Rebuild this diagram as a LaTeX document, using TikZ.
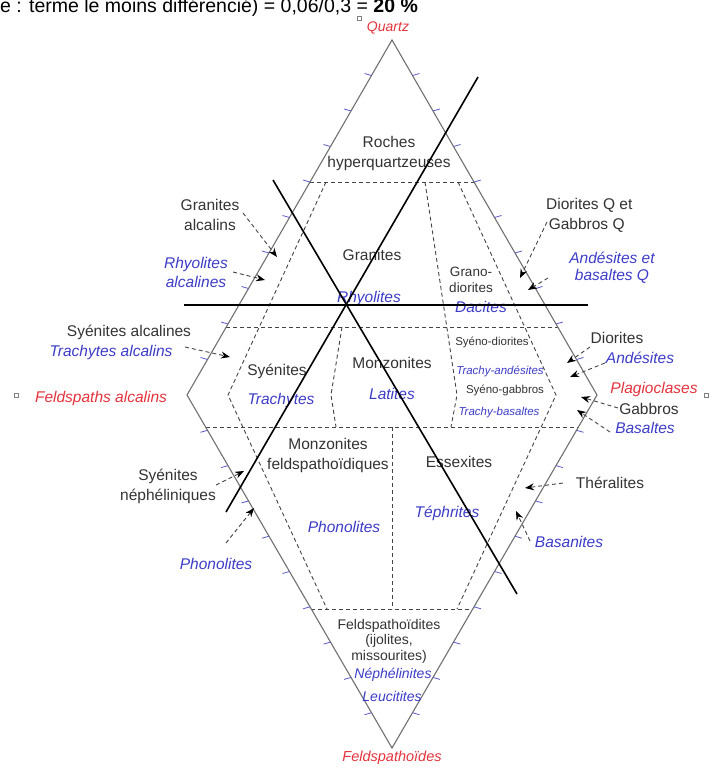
\documentclass[tikz,border=0pt]{standalone}
\usepackage{fontspec}
\setmainfont{Liberation Sans}
\usetikzlibrary{arrows.meta,calc,positioning}
\definecolor{txt}{HTML}{333333}
\definecolor{blu}{HTML}{3C3CC8}
\definecolor{rouge}{HTML}{E4323C}
\definecolor{edge}{HTML}{707070}
\definecolor{grad}{HTML}{5A5AC8}
\definecolor{trait}{HTML}{444444}

\tikzset{
  lbl/.style={text=txt,font=\fontsize{15.5}{20}\selectfont,align=center,inner sep=0pt},
  lave/.style={lbl,text=blu,font=\fontsize{15.5}{19}\selectfont\itshape},
  petit/.style={lbl,font=\fontsize{11.5}{14}\selectfont},
  petitlave/.style={petit,text=blu,font=\fontsize{11.5}{14}\selectfont\itshape},
  pole/.style={lbl,text=rouge,font=\fontsize{15.5}{18}\selectfont\itshape},
  bord/.style={draw=edge,line width=1.1pt,line join=miter},
  champ/.style={draw=trait,line width=0.9pt,dash pattern=on 4pt off 3pt},
  fleche/.style={draw=trait,line width=0.9pt,dash pattern=on 4pt off 3pt,-{Stealth[length=9pt,width=7pt,black]}},
  gradu/.style={draw=grad,line width=0.8pt},
  barre/.style={draw=black,line width=1.6pt},
  poignee/.style={draw=gray,line width=0.8pt}
}

\begin{document}
\begin{tikzpicture}[x=1pt,y=-1pt]
\useasboundingbox (0,0) rectangle (715,768);

% sommets du double triangle
\coordinate (Q) at (392,40);
\coordinate (A) at (187,395);
\coordinate (P) at (597,395);
\coordinate (F) at (392,748);

% ligne de texte coupee en haut
\node[anchor=base west,inner sep=0pt,text=black,font=\fontsize{19.5}{22}\selectfont] (titre) at (0,13)
  {e : terme le moins différencié) = 0,06/0,3 = \textbf{20 \%}};

% limites des champs
\draw[champ] (310,182) -- (474,182);
\draw[champ] (226,327) -- (558,327);
\draw[champ] (206,427) -- (578,427);
\draw[champ] (311,609) -- (473,609);
\draw[champ] (326,182) -- (228,395) -- (327,609);
\draw[champ] (342,327) -- (331,395) -- (336,427);
\draw[champ] (425,182) -- (457,395) -- (451,427);
\draw[champ] (458,182) -- (556,395) -- (457,609);
\draw[champ] (392,427) -- (392,609);

% contour
\draw[bord] (Q) -- (P) -- (F) -- (A) -- cycle;

% graduations
\foreach \k in {1,...,9} {
  \draw[gradu] ($(Q)!\k/10!(A)$) -- ++(-7,-2);
  \draw[gradu] ($(Q)!\k/10!(P)$) -- ++(7,-2);
  \draw[gradu] ($(F)!\k/10!(A)$) -- ++(-7,2);
  \draw[gradu] ($(F)!\k/10!(P)$) -- ++(7,2);
}

% poles
\node[pole,font=\fontsize{14}{16}\selectfont\itshape] (quartz) at (388,28) {Quartz};
\node[pole] (feldalc) at (101,398) {Feldspaths alcalins};
\node[pole] (plagio) at (654,389) {Plagioclases};
\node[pole,font=\fontsize{14.5}{16}\selectfont\itshape] (feldspd) at (392,758) {Feldspathoïdes};

% roches plutoniques et volcaniques
\node[lbl] (hyperq) at (389,153) {Roches\\hyperquartzeuses};
\node[lbl] (granalc) at (210,215) {Granites\\alcalins};
\node[lave] (rhyalc) at (196,272) {Rhyolites\\alcalines};
\node[lbl] (granites) at (372,255) {Granites};
\node[lave] (rhyolites) at (369,298) {Rhyolites};
\node[lbl,font=\fontsize{13.5}{15.5}\selectfont] (granodio) at (471,280) {Grano-\\diorites};
\node[lave] (dacites) at (481,307) {Dacites};
\node[lbl,align=left,anchor=west] (dioQ) at (546,215) {Diorites Q et\\\,Gabbros Q};
\node[lave,font=\fontsize{15.5}{17}\selectfont\itshape] (andQ) at (612,268) {Andésites et\\basaltes Q};

\node[lbl] (syalc) at (129,332) {Syénites alcalines};
\node[lave] (tralc) at (111,352) {Trachytes alcalins};
\node[lbl] (syenites) at (277,371) {Syénites};
\node[lave] (trachytes) at (281,400) {Trachytes};
\node[lbl] (monzo) at (392,363) {Monzonites};
\node[lave] (latites) at (392,394) {Latites};
\node[petit] (synodio) at (492,342) {Syéno-diorites};
\node[petitlave] (tradesit) at (500,371) {Trachy-andésites};
\node[petit] (synogab) at (505,390) {Syéno-gabbros};
\node[petitlave] (trabas) at (499,413) {Trachy-basaltes};
\node[lbl] (diorites) at (617,338) {Diorites};
\node[lave] (andesites) at (640,358) {Andésites};
\node[lbl] (gabbros) at (649,409) {Gabbros};
\node[lave] (basaltes) at (645,428) {Basaltes};

\node[lbl] (monzfeld) at (328,455) {Monzonites\\feldspathoïdiques};
\node[lbl] (essex) at (459,462) {Essexites};
\node[lbl] (synep) at (168,486) {Syénites\\néphéliniques};
\node[lbl] (theral) at (610,483) {Théralites};
\node[lave] (phonoin) at (344,527) {Phonolites};
\node[lave] (tephr) at (447,513) {Téphrites};
\node[lave] (basan) at (569,542) {Basanites};
\node[lave] (phonoout) at (216,564) {Phonolites};

\node[lbl,font=\fontsize{14}{15.5}\selectfont] (feldite) at (389,641) {Feldspathoïdites\\(ijolites,\\missourites)};
\node[lave,font=\fontsize{14}{16}\selectfont\itshape] (nephel) at (393,675) {Néphélinites};
\node[lave,font=\fontsize{14}{16}\selectfont\itshape] (leucit) at (392,696) {Leucitites};

% fleches de renvoi
\coordinate (granalcA) at (243,213); \coordinate (granalcB) at (277,257);
\coordinate (rhyalcA) at (233,272);  \coordinate (rhyalcB) at (265,280);
\coordinate (dioQA) at (547,222);    \coordinate (dioQB) at (520,278);
\coordinate (andQA) at (548,278);    \coordinate (andQB) at (528,290);
\coordinate (syalcA) at (185,347);   \coordinate (syalcB) at (230,357);
\coordinate (dioA) at (590,347);     \coordinate (dioB) at (567,363);
\coordinate (andA) at (605,363);     \coordinate (andB) at (570,377);
\coordinate (gabA) at (618,408);     \coordinate (gabB) at (581,397);
\coordinate (basA) at (610,432);     \coordinate (basB) at (577,410);
\coordinate (therA) at (563,483);    \coordinate (therB) at (525,488);
\coordinate (basanA) at (530,541);   \coordinate (basanB) at (516,511);
\coordinate (synepA) at (216,485);   \coordinate (synepB) at (244,471);
\coordinate (phonoA) at (226,543);   \coordinate (phonoB) at (254,508);
\draw[fleche] (granalcA) -- (granalcB);
\draw[fleche] (rhyalcA) -- (rhyalcB);
\draw[fleche] (dioQA) -- (dioQB);
\draw[fleche] (andQA) -- (andQB);
\draw[fleche] (syalcA) -- (syalcB);
\draw[fleche] (dioA) -- (dioB);
\draw[fleche] (andA) -- (andB);
\draw[fleche] (gabA) -- (gabB);
\draw[fleche] (basA) -- (basB);
\draw[fleche] (therA) -- (therB);
\draw[fleche] (basanA) -- (basanB);
\draw[fleche] (synepA) -- (synepB);
\draw[fleche] (phonoA) -- (phonoB);

% traits noirs
\coordinate (h1) at (184,305); \coordinate (h2) at (588,305);
\coordinate (d1) at (478,77);  \coordinate (d2) at (226,512);
\coordinate (e1) at (273,180); \coordinate (e2) at (517,594);
\draw[barre] (h1) -- (h2);
\draw[barre] (d1) -- (d2);
\draw[barre] (e1) -- (e2);

% poignees
\draw[poignee] (357,16) rectangle ++(4,4);
\draw[poignee] (14,393) rectangle ++(4,4);
\draw[poignee] (704,393) rectangle ++(4,4);
\end{tikzpicture}
\end{document}
